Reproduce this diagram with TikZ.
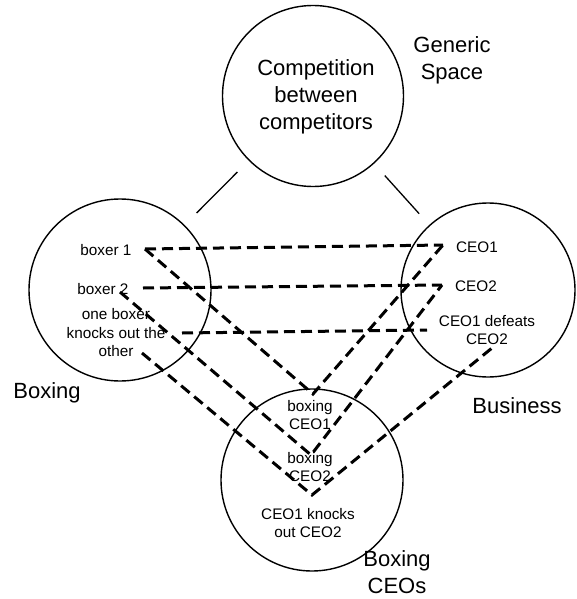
\documentclass[tikz,border=0pt]{standalone}
\usepackage{fontspec}
\setmainfont{Liberation Sans}
\begin{document}
\begin{tikzpicture}[x=1pt,y=-1pt,
  space/.style={circle, draw, line width=1.4pt, inner sep=0pt},
  big/.style={inner sep=0pt, align=center, font=\fontsize{22}{27}\selectfont},
  small/.style={inner sep=0pt, align=center, font=\fontsize{15.3}{18.5}\selectfont},
  link/.style={line width=1.3pt},
  map/.style={line width=3pt, dash pattern=on 11pt off 6pt}]
\useasboundingbox (0,0) rectangle (576,599);

% the four mental spaces
\node[space, minimum size=181pt] (gen) at (313,96) {};
\node[space, minimum size=182pt] (box) at (120,290) {};
\node[space, minimum size=174pt] (bus) at (488,290) {};
\node[space, minimum size=182pt] (blend) at (312,480) {};

% space labels
\node[big] (gentxt) at (316,97) {Competition\\between\\competitors};
\node[big] (genlab) at (452,60) {Generic\\Space};
\node[big, anchor=base] (boxlab) at (47,398) {Boxing};
\node[big, anchor=base] (buslab) at (517,413) {Business};
\node[big] (blendlab) at (397,572) {Boxing\\CEOs};

% elements of the input and blended spaces
\node[small, anchor=base] (boxer1) at (106,255) {boxer 1};
\node[small, anchor=base] (boxer2) at (103,294) {boxer 2};
\node[small] (knock) at (116,333) {one boxer\\knocks out the\\other};
\node[small, anchor=base] (ceo1) at (477,252) {CEO1};
\node[small, anchor=base] (ceo2) at (476,291) {CEO2};
\node[small] (defeat) at (487,330) {CEO1 defeats\\CEO2};
\node[small] (bceo1) at (310,415) {boxing\\CEO1};
\node[small] (bceo2) at (310,467) {boxing\\CEO2};
\node[small] (bknock) at (308,523) {CEO1 knocks\\out CEO2};

% end points of the mappings
\coordinate (a1) at (145,249);
\coordinate (a2) at (143,288);
\coordinate (a2d) at (120,292);
\coordinate (a3) at (182,333);
\coordinate (a3d) at (142,353);
\coordinate (c1) at (443,245);
\coordinate (c2) at (442,285);
\coordinate (c3) at (427,330);
\coordinate (c3d) at (492,348);
\coordinate (v1) at (313,394);
\coordinate (v2) at (311,455);
\coordinate (v3) at (312,495);

% generic space to the inputs
\draw[link, shorten <=16pt, shorten >=17pt] (gen) -- (box);
\draw[link, shorten <=16pt, shorten >=15pt] (gen) -- (bus);

% cross-space mappings
\draw[map] (a1) -- (c1);
\draw[map] (a2) -- (c2);
\draw[map] (a3) -- (c3);
\draw[map] (a1) -- (v1) -- (c1);
\draw[map] (a2d) -- (v2) -- (c2);
\draw[map] (a3d) -- (v3) -- (c3d);
\end{tikzpicture}
\end{document}
